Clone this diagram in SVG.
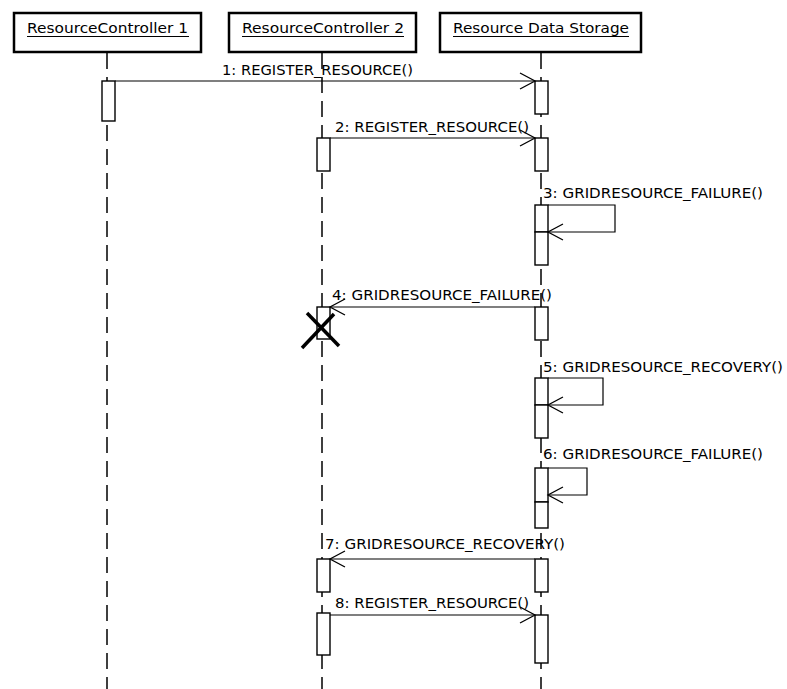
<svg xmlns="http://www.w3.org/2000/svg" width="787" height="689" viewBox="0 0 787 689">
<style>
.box{fill:#fff;stroke:#000;stroke-width:2.5}
.title{font-family:"DejaVu Sans",sans-serif;font-size:14px;fill:#000}
.ul{stroke:#000;stroke-width:1}
.life{stroke:#000;stroke-width:1.5;stroke-dasharray:16 8;fill:none}
.act{fill:#fff;stroke:#000;stroke-width:1.4}
.msg{fill:none;stroke:#000;stroke-width:1.2;marker-end:url(#open)}
.lbl{font-family:"DejaVu Sans",sans-serif;font-size:14px;fill:#000}
.x{stroke:#000;stroke-width:3.5;stroke-linecap:butt}
</style>
<defs>
<marker id="open" markerUnits="userSpaceOnUse" markerWidth="18" markerHeight="20" viewBox="-1 -1 18 20" refX="15" refY="8" orient="auto">
<path d="M0,0 L15,8 L0,16" fill="none" stroke="#000" stroke-width="1.3"/>
</marker>
</defs>
<rect width="787" height="689" fill="#fff"/>
<g id="lifelines">
<line class="life" x1="107" y1="53" x2="107" y2="689"/>
<line class="life" x1="322" y1="53" x2="322" y2="689"/>
<line class="life" x1="541" y1="53" x2="541" y2="689"/>
</g>
<g id="rc1">
<rect class="box" x="14" y="13" width="187" height="39"/>
<text class="title" x="27" y="33" textLength="161" lengthAdjust="spacingAndGlyphs">ResourceController 1</text>
<line class="ul" x1="27" y1="36.5" x2="189" y2="36.5"/>
<rect class="act" x="102" y="81" width="13" height="40"/>
</g>
<g id="rc2">
<rect class="box" x="229" y="13" width="187" height="39"/>
<text class="title" x="242" y="33" textLength="162" lengthAdjust="spacingAndGlyphs">ResourceController 2</text>
<line class="ul" x1="242" y1="36.5" x2="404" y2="36.5"/>
<rect class="act" x="317" y="138" width="13" height="33"/>
<rect class="act" x="317" y="307" width="13" height="32"/>
<rect class="act" x="317" y="559" width="13" height="33"/>
<rect class="act" x="317" y="613" width="13" height="42"/>
<g id="destroy">
<line class="x" x1="307" y1="313" x2="339" y2="346"/>
<line class="x" x1="334" y1="314" x2="302" y2="348"/>
</g>
</g>
<g id="rds">
<rect class="box" x="440" y="13" width="201" height="39"/>
<text class="title" x="453" y="33" textLength="176" lengthAdjust="spacingAndGlyphs">Resource Data Storage</text>
<line class="ul" x1="453" y1="36.5" x2="629" y2="36.5"/>
<rect class="act" x="535" y="81" width="13" height="33"/>
<rect class="act" x="535" y="138" width="13" height="33"/>
<rect class="act" x="535" y="205" width="13" height="27"/>
<rect class="act" x="535" y="232" width="13" height="33"/>
<rect class="act" x="535" y="307" width="13" height="33"/>
<rect class="act" x="535" y="378" width="13" height="27"/>
<rect class="act" x="535" y="405" width="13" height="33"/>
<rect class="act" x="535" y="468" width="13" height="34"/>
<rect class="act" x="535" y="502" width="13" height="26"/>
<rect class="act" x="535" y="559" width="13" height="33"/>
<rect class="act" x="535" y="615" width="13" height="48"/>
</g>
<g id="connectors">
<path class="msg" d="M115,81 H535"/>
<path class="msg" d="M330,138 H535"/>
<path class="msg" d="M548,205 H615 V232 H548"/>
<path class="msg" d="M535,307 H330"/>
<path class="msg" d="M548,378 H603 V405 H548"/>
<path class="msg" d="M548,468 H587 V495 H548"/>
<path class="msg" d="M535,559 H330"/>
<path class="msg" d="M330,615 H535"/>
</g>
<g id="labels">
<text class="lbl" x="222" y="75" textLength="191" lengthAdjust="spacingAndGlyphs">1: REGISTER_RESOURCE()</text>
<text class="lbl" x="335" y="132" textLength="194" lengthAdjust="spacingAndGlyphs">2: REGISTER_RESOURCE()</text>
<text class="lbl" x="543" y="198" textLength="220" lengthAdjust="spacingAndGlyphs">3: GRIDRESOURCE_FAILURE()</text>
<text class="lbl" x="332" y="300" textLength="220" lengthAdjust="spacingAndGlyphs">4: GRIDRESOURCE_FAILURE()</text>
<text class="lbl" x="543" y="372" textLength="240" lengthAdjust="spacingAndGlyphs">5: GRIDRESOURCE_RECOVERY()</text>
<text class="lbl" x="543" y="459" textLength="220" lengthAdjust="spacingAndGlyphs">6: GRIDRESOURCE_FAILURE()</text>
<text class="lbl" x="325" y="549" textLength="240" lengthAdjust="spacingAndGlyphs">7: GRIDRESOURCE_RECOVERY()</text>
<text class="lbl" x="335" y="608" textLength="194" lengthAdjust="spacingAndGlyphs">8: REGISTER_RESOURCE()</text>
</g>
</svg>
